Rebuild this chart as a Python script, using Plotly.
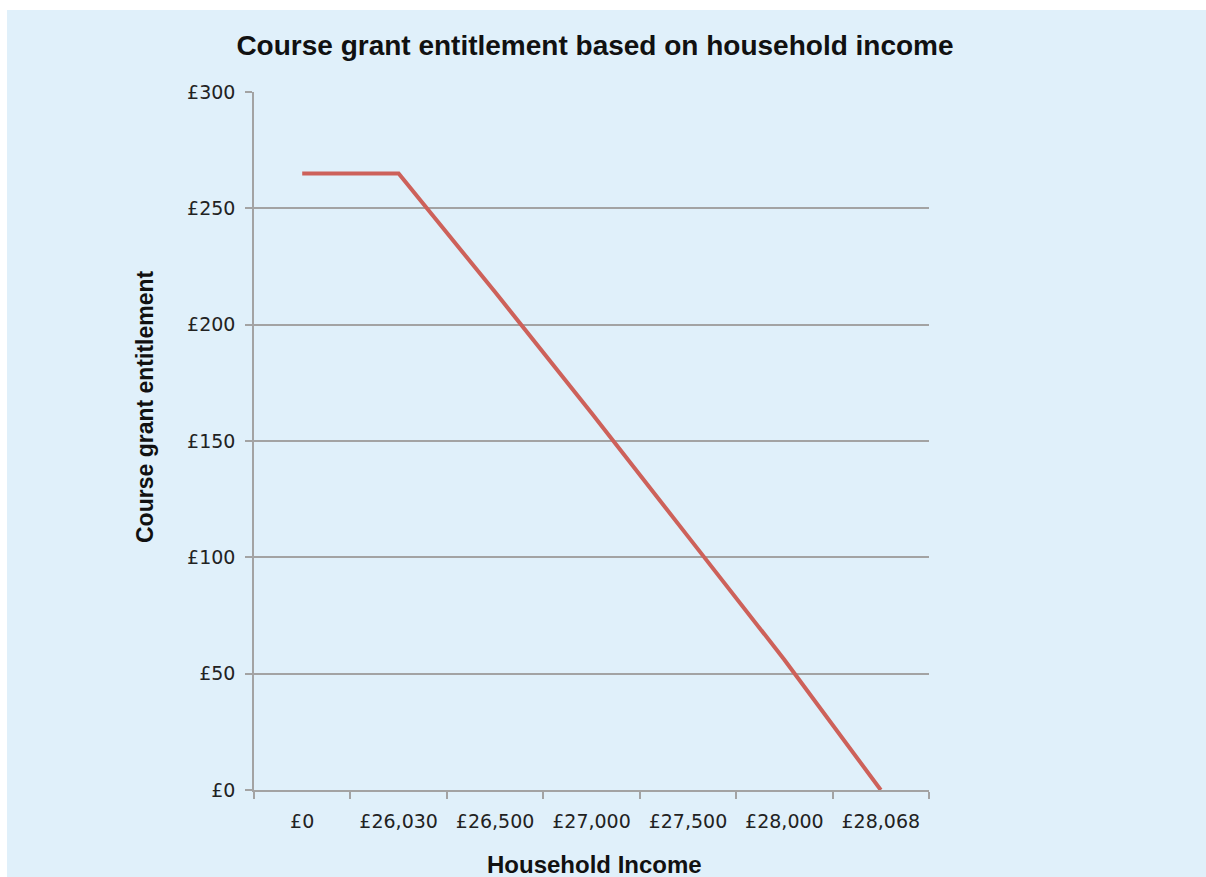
import plotly.graph_objects as go

# Household income bands (categorical axis) and the grant paid at each
income_labels = ["£0", "£26,030", "£26,500", "£27,000", "£27,500", "£28,000", "£28,068"]
grant_values = [265, 265, 214, 162, 109, 56, 0]

y_ticks = [0, 50, 100, 150, 200, 250, 300]

PANEL_BLUE = "#E0F0FA"
GRID_GREY = "#A3A3A3"
LINE_RED = "#CD615A"

fig = go.Figure()

fig.add_trace(go.Scatter(
    x=income_labels,
    y=grant_values,
    mode="lines",
    line=dict(color=LINE_RED, width=4),
    hoverinfo="x+y",
    showlegend=False,
))

W, H = 1206, 877
L, R, T, B = 254, 277, 92, 87
plot_w = W - L - R
plot_h = H - T - B


def px_to_paper_x(px):
    return (px - L) / plot_w


def px_to_paper_y(py):
    return (H - B - py) / plot_h


# thin white strips along the top and left edges of the blue panel
fig.add_shape(
    type="rect", xref="paper", yref="paper", layer="below",
    x0=px_to_paper_x(-5), x1=px_to_paper_x(W + 5),
    y0=px_to_paper_y(10), y1=px_to_paper_y(-5),
    fillcolor="white", line=dict(width=0),
)
fig.add_shape(
    type="rect", xref="paper", yref="paper", layer="below",
    x0=px_to_paper_x(-5), x1=px_to_paper_x(7),
    y0=px_to_paper_y(H + 5), y1=px_to_paper_y(-5),
    fillcolor="white", line=dict(width=0),
)

fig.update_layout(
    width=W, height=H,
    margin=dict(l=L, r=R, t=T, b=B),
    paper_bgcolor=PANEL_BLUE,
    plot_bgcolor="rgba(0,0,0,0)",
    title=dict(
        text="<b>Course grant entitlement based on household income</b>",
        x=595 / W, xanchor="center",
        y=1 - 45 / H, yanchor="middle",
        font=dict(family="Liberation Sans, Arial, sans-serif", size=28, color="#111111"),
    ),
    xaxis=dict(
        type="category",
        categoryorder="array", categoryarray=income_labels,
        range=[-0.5, len(income_labels) - 0.5],
        showline=True, linecolor=GRID_GREY, linewidth=1.5,
        ticks="outside", tickson="boundaries", ticklen=7,
        tickcolor=GRID_GREY, tickwidth=1.5,
        showgrid=False, zeroline=False,
        tickfont=dict(family="DejaVu Sans, sans-serif", size=19, color="#222222"),
        ticklabelstandoff=13,
    ),
    yaxis=dict(
        range=[0, 300],
        tickvals=y_ticks,
        ticktext=["£" + str(v) for v in y_ticks],
        showline=True, linecolor=GRID_GREY, linewidth=1.5,
        ticks="outside", ticklen=7, tickcolor=GRID_GREY, tickwidth=1.5,
        showgrid=True, gridcolor=GRID_GREY, gridwidth=1.5,
        zeroline=False,
        tickfont=dict(family="DejaVu Sans, sans-serif", size=19, color="#222222"),
        ticklabelstandoff=6,
    ),
    annotations=[
        dict(
            text="<b>Course grant entitlement</b>",
            xref="paper", yref="paper",
            x=px_to_paper_x(145), y=px_to_paper_y(407),
            xanchor="center", yanchor="middle",
            textangle=-90, showarrow=False,
            font=dict(family="Liberation Sans, Arial, sans-serif", size=23, color="#111111"),
        ),
        dict(
            text="<b>Household Income</b>",
            xref="paper", yref="paper",
            x=px_to_paper_x(594), y=px_to_paper_y(865),
            xanchor="center", yanchor="middle",
            showarrow=False,
            font=dict(family="Liberation Sans, Arial, sans-serif", size=24, color="#111111"),
        ),
    ],
)

fig.write_html("out.html")
